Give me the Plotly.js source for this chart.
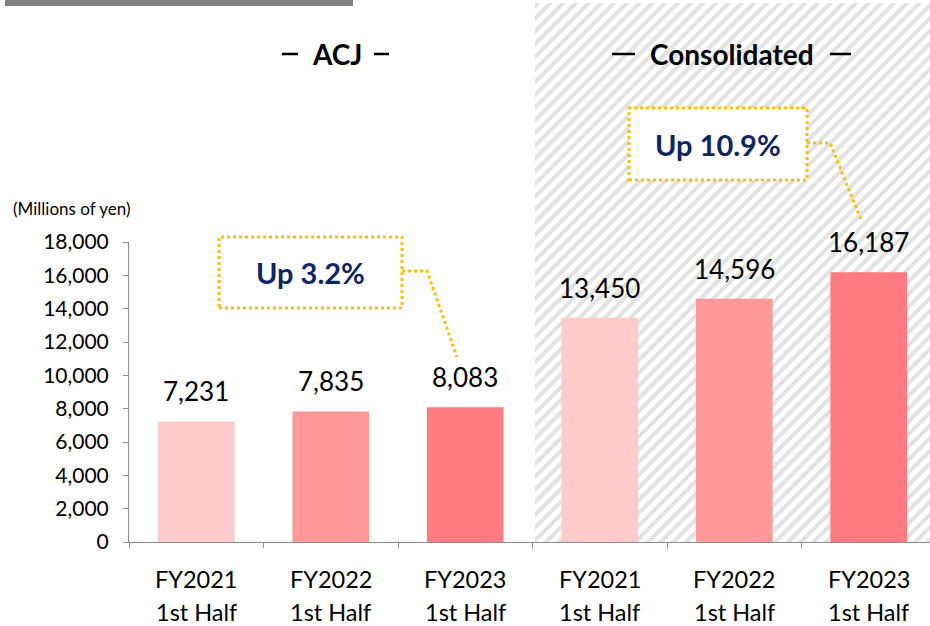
<!DOCTYPE html>
<html>
<head>
<meta charset="utf-8">
<script src="https://cdn.plot.ly/plotly-3.0.1.min.js"></script>
<style>html,body{margin:0;padding:0;background:#fff;}#chart{width:930px;height:626px;}</style>
</head>
<body>
<div id="chart"></div>
<script>
// ---- data ----
const groups = ['ACJ', 'Consolidated'];
const years = ['FY2021', 'FY2022', 'FY2023'];
const halfLabel = '1st Half';
const acjValues = [7231, 7835, 8083];
const consolidatedValues = [13450, 14596, 16187];
const growthLabels = ['Up 3.2%', 'Up 10.9%'];
const yTickValues = [0, 2000, 4000, 6000, 8000, 10000, 12000, 14000, 16000, 18000];
const unitLabel = '(Millions of yen)';

// ---- styles ----
const barColors = ['#ffcaca', '#ff9999', '#ff7b7f'];
const FONT = 'Lato, "Open Sans", sans-serif';
const W = 930, H = 626;
const L = 129, R = 0, T = 242, B = 84;
const PW = W - L - R, PH = H - T - B;
const px = v => (v - L) / PW;          // pixel -> paper x
const py = v => (H - B - v) / PH;      // pixel -> paper y

const allValues = acjValues.concat(consolidatedValues);
const xIdx = allValues.map((_, i) => i);
const colors = allValues.map((_, i) => barColors[i % 3]);

const traces = [{
  type: 'bar',
  x: xIdx,
  y: allValues,
  width: 0.57,
  marker: {color: colors, line: {width: 0}},
  hoverinfo: 'skip',
  showlegend: false
}];

const annotations = [];
// value labels
allValues.forEach((v, i) => {
  annotations.push({
    x: i, y: v, xref: 'x', yref: 'y',
    text: v.toLocaleString('en-US'),
    showarrow: false, yanchor: 'bottom', yshift: 12,
    font: {family: FONT, size: 26, color: '#000'}
  });
});
// category labels (two lines)
xIdx.forEach(i => {
  annotations.push({
    x: i, y: 0, xref: 'x', yref: 'y', text: years[i % 3],
    showarrow: false, yanchor: 'middle', yshift: -37,
    font: {family: FONT, size: 23.5, color: '#000'}
  });
  annotations.push({
    x: i, y: 0, xref: 'x', yref: 'y', text: halfLabel,
    showarrow: false, yanchor: 'middle', yshift: -70,
    font: {family: FONT, size: 23.5, color: '#000'}
  });
});
// unit label
annotations.push({
  x: px(11), y: py(209), xref: 'paper', yref: 'paper', text: unitLabel,
  showarrow: false, xanchor: 'left', yanchor: 'middle',
  font: {family: FONT, size: 17, color: '#000'}
});
// group titles
const titleCenters = [336.5, 731.5];
groups.forEach((g, k) => {
  annotations.push({
    x: px(titleCenters[k]), y: py(54), xref: 'paper', yref: 'paper',
    text: '<b>' + g + '</b>',
    showarrow: false, xanchor: 'center', yanchor: 'middle',
    font: {family: FONT, size: 28, color: '#000'}
  });
});
// callout texts
const calloutBoxes = [[219, 237, 402, 308], [629, 108, 807, 180]];
growthLabels.forEach((t, k) => {
  const b = calloutBoxes[k];
  annotations.push({
    x: px((b[0] + b[2]) / 2), y: py((b[1] + b[3]) / 2), xref: 'paper', yref: 'paper',
    text: '<b>' + t + '</b>', showarrow: false, xanchor: 'center', yanchor: 'middle',
    font: {family: FONT, size: 29, color: '#0d2566'}
  });
});

const gold = '#ffc000';
const shapes = [
  // top gray bar
  {type: 'rect', xref: 'paper', yref: 'paper', x0: px(5), x1: px(353), y0: py(0), y1: py(6),
   fillcolor: '#808080', line: {width: 0}, layer: 'above'},
];
// title dashes
const titleDashes = [[282, 298], [374, 389], [612, 635], [830, 851]];
titleDashes.forEach(d => {
  shapes.push({type: 'line', xref: 'paper', yref: 'paper',
    x0: px(d[0]), x1: px(d[1]), y0: py(54), y1: py(54),
    line: {color: '#000', width: 2.5}, layer: 'above'});
});
calloutBoxes.forEach(b => {
  shapes.push({type: 'rect', xref: 'paper', yref: 'paper',
    x0: px(b[0]), x1: px(b[2]), y0: py(b[3]), y1: py(b[1]),
    fillcolor: '#ffffff', line: {color: gold, width: 3, dash: 'dot'}, layer: 'above'});
});
const leaders = [[[402, 271], [427, 271], [457, 357]], [[807, 143], [830, 143], [862, 222]]];
leaders.forEach(pts => {
  shapes.push({type: 'path', xref: 'paper', yref: 'paper',
    path: pts.map((p, j) => (j ? 'L' : 'M') + px(p[0]) + ',' + py(p[1])).join(' '),
    line: {color: gold, width: 3, dash: 'dot'}, layer: 'above'});
});

// hatched background for consolidated section
const hx0 = 535, hy0 = 3, hx1 = 930, hy1 = 542;
const hw = hx1 - hx0, hh = hy1 - hy0;
const svg = `<svg xmlns='http://www.w3.org/2000/svg' width='${hw}' height='${hh}' viewBox='0 0 ${hw} ${hh}'>` +
  `<defs><pattern id='p' patternUnits='userSpaceOnUse' width='9' height='9' patternTransform='rotate(45)'>` +
  `<rect x='0' y='0' width='4' height='9' fill='#e2e2e2'/></pattern></defs>` +
  `<rect width='${hw}' height='${hh}' fill='#ffffff'/><rect width='${hw}' height='${hh}' fill='url(#p)'/></svg>`;
const images = [{
  source: 'data:image/svg+xml;charset=utf-8,' + encodeURIComponent(svg),
  xref: 'paper', yref: 'paper', x: px(hx0), y: py(hy0),
  sizex: hw / PW, sizey: hh / PH, xanchor: 'left', yanchor: 'top',
  sizing: 'stretch', layer: 'below'
}];

const boundaries = [];
for (let i = 0; i <= allValues.length; i++) boundaries.push(i - 0.5);

const layout = {
  width: W, height: H,
  margin: {l: L, r: R, t: T, b: B, pad: 0},
  paper_bgcolor: '#ffffff',
  plot_bgcolor: 'rgba(0,0,0,0)',
  showlegend: false,
  barmode: 'overlay',
  xaxis: {
    range: [-0.5, -0.5 + PW / 134.5],
    tickvals: boundaries, ticktext: boundaries.map(() => ''),
    showticklabels: false,
    ticks: 'outside', ticklen: 5, tickcolor: '#8c8c8c', tickwidth: 1,
    showline: true, linecolor: '#8c8c8c', linewidth: 1,
    showgrid: false, zeroline: false, fixedrange: true
  },
  yaxis: {
    range: [0, 18000],
    tickvals: yTickValues,
    ticktext: yTickValues.map(v => v.toLocaleString('en-US')),
    ticks: 'outside', ticklen: 5, tickcolor: '#8c8c8c', tickwidth: 1,
    ticklabelstandoff: 10,
    tickfont: {family: FONT, size: 21, color: '#000'},
    showline: true, linecolor: '#8c8c8c', linewidth: 1,
    showgrid: false, zeroline: false, fixedrange: true
  },
  annotations: annotations,
  shapes: shapes,
  images: images
};

Plotly.newPlot('chart', traces, layout, {staticPlot: true, displayModeBar: false});
</script>
</body>
</html>
